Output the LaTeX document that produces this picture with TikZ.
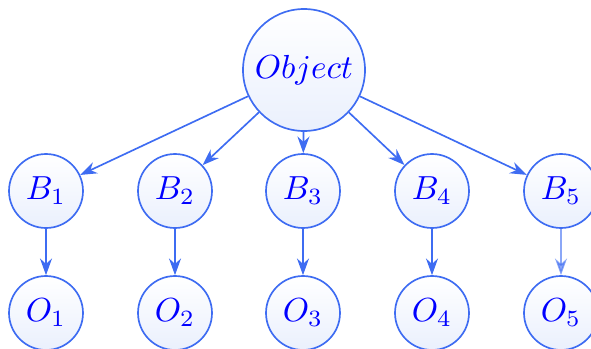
\documentclass[tikz,border=0pt]{standalone}
\usetikzlibrary{arrows.meta,shadings}
\definecolor{edgeblue}{RGB}{62,108,242}
\definecolor{fillblue}{RGB}{234,240,253}
\begin{document}
\begin{tikzpicture}[x=0.3pt,y=-0.3pt,
  nd/.style={circle,draw=edgeblue,line width=0.5pt,top color=white,bottom color=fillblue,
    text=blue,inner sep=0pt,minimum size=#1},
  nd/.default={22.2pt},
  arr/.style={draw=edgeblue,line width=0.5pt,-{Stealth[length=5pt,width=3.6pt]}}]
\useasboundingbox (0,0) rectangle (591,349);
\node[nd=36.6pt] (obj) at (304,70) {$Object$};
\foreach \i/\x in {1/46,2/175,3/303,4/432,5/561}{
  \node[nd] (b\i) at (\x,191) {$B_{\i}$};
  \node[nd] (o\i) at (\x,313) {$O_{\i}$};
  \draw[arr] (obj) -- (b\i);
}
\foreach \i in {1,2,3,4}{\draw[arr] (b\i) -- (o\i);}
\draw[arr,draw opacity=0.6,fill opacity=0.6] (b5) -- (o5);
\end{tikzpicture}
\end{document}
